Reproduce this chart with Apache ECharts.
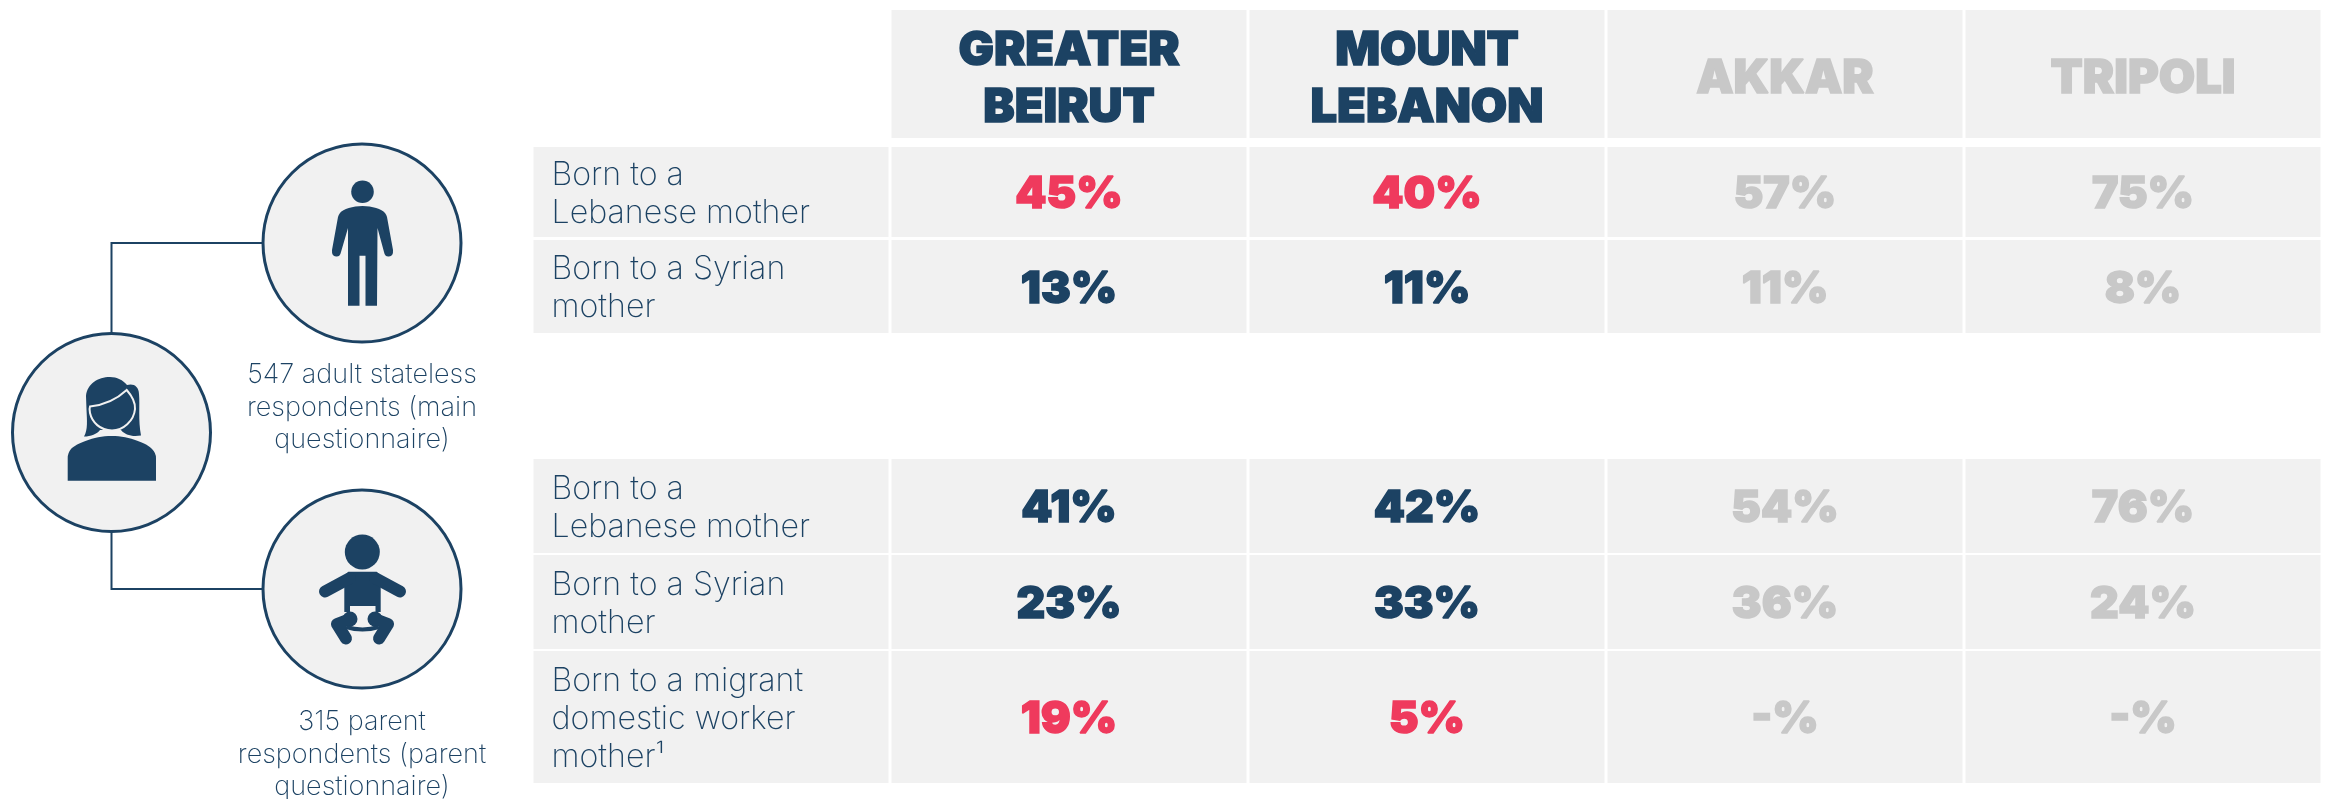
<!DOCTYPE html>
<html>
<head>
<meta charset="utf-8">
<style>
  html, body { margin: 0; padding: 0; background: #fff; }
  #main { width: 2325px; height: 799px; }
</style>
<script src="https://cdn.jsdelivr.net/npm/echarts@6/dist/echarts.min.js"></script>
</head>
<body>
<div id="main"></div>
<script>
// table content
var regions = ['GREATER\nBEIRUT', 'MOUNT\nLEBANON', 'AKKAR', 'TRIPOLI'];
var rowLabels = [
    'Born to a\nLebanese mother',
    'Born to a Syrian\nmother',
    'Born to a\nLebanese mother',
    'Born to a Syrian\nmother',
    'Born to a migrant\ndomestic worker\nmother\u00b9'
];
var adultLebanese = [45, 40, 57, 75];
var adultSyrian = [13, 11, 11, 8];
var parentLebanese = [41, 42, 54, 76];
var parentSyrian = [23, 33, 36, 24];
var parentMigrant = [19, 5, null, null];
var adultNote = '547 adult stateless\nrespondents (main\nquestionnaire)';
var parentNote = '315 parent\nrespondents (parent\nquestionnaire)';

var NAVY = '#1c4263', RED = '#ef3a5d', GREY = '#c8c8c8', CELL = '#f1f1f1';
var FONT = 'Inter';

var rowValues = [adultLebanese, adultSyrian, parentLebanese, parentSyrian, parentMigrant];
var redRows = [0, 4];      // rows where the first two regions are highlighted
var fadedColumns = [2, 3]; // Akkar and Tripoli are greyed out

// y axis runs in page pixels, row -1 is the header
var rowEdges = [[147, 237], [240, 333], [459, 553], [555, 649], [651, 783]];
var headerEdge = [10, 138];

var cells = [];
regions.forEach(function (name, c) {
    cells.push({
        value: [c + 1, -1],
        text: name,
        size: 47, weight: 900, lineHeight: 57, shift: 4, heavy: true,
        color: fadedColumns.indexOf(c) >= 0 ? GREY : NAVY
    });
});
rowLabels.forEach(function (label, r) {
    cells.push({
        value: [0, r],
        text: label,
        size: 32.2, weight: 200, lineHeight: 38, shift: 1,
        color: NAVY, align: 'left'
    });
    rowValues[r].forEach(function (v, c) {
        var color = NAVY;
        if (redRows.indexOf(r) >= 0) color = RED;
        if (fadedColumns.indexOf(c) >= 0) color = GREY;
        cells.push({
            value: [c + 1, r],
            text: (v === null ? '-' : v) + '%',
            size: 44.5, weight: 900, lineHeight: 57, shift: 2, heavy: true,
            color: color
        });
    });
});

function renderCell(params, api) {
    var cell = cells[params.dataIndex];
    var edge = api.value(1) < 0 ? headerEdge : rowEdges[api.value(1)];
    var cx = api.coord([api.value(0), 0])[0];
    var band = api.size([1, 0])[0];
    var top = api.coord([0, edge[0]])[1];
    var bottom = api.coord([0, edge[1]])[1];
    var left = cx - band / 2 + 1.5;
    var w = band - 3;
    return {
        type: 'group',
        children: [{
            type: 'rect',
            shape: { x: left, y: top, width: w, height: bottom - top },
            style: { fill: CELL }
        }, {
            type: 'text',
            style: {
                x: cell.align === 'left' ? left + 18 : left + w / 2,
                y: (top + bottom) / 2 + 1 + cell.shift,
                text: cell.text,
                fill: cell.color,
                stroke: cell.heavy ? cell.color : null,
                lineWidth: cell.heavy ? 1.5 : 0,
                fontFamily: FONT,
                fontSize: cell.size,
                fontWeight: cell.weight,
                lineHeight: cell.lineHeight,
                align: cell.align || 'center',
                verticalAlign: 'middle'
            }
        }]
    };
}

// icons and connectors on the left
var manPath = 'M362.5 206C372 206 382 209 385 213Q386.5 215 387 217L393 250Q393.5 256 389 256.5Q385 257 384 252L377.5 228L377 305.7L365.5 305.7L365.5 255.7L359.5 255.7L359.5 305.7L348 305.7L348 228L341 252Q340 257 336 256.5Q331.5 256 332 250L338 217Q338.5 215 340 213C343 209 353 206 362.5 206Z';
var hairPath = 'M84 436.5C88 430 87 420 86.5 410L86 396C87 384 98 377 110 377C117 377 123 380 127 385C133 383 139 386 139 394C140 405 138 420 141 435.5C132 437 125 435 121 430L100 430C97 434 91 436.5 84 436.5Z';
var facePath = 'M90 406.5C104 405 116 400 126.7 390C132 396 135.5 402 135 409C134 421 123 430.5 112 430.5C100 430.5 92 422 90 413Q89 409 90 406.5Z';
var womanBodyPath = 'M111.7 436C130 436 148 444 152 449Q156 453 156 458L156 480.7L67.7 480.7L67.7 458Q67.7 453 71 449C76 444 93 436 111.7 436Z';
var babyTorso = 'M348.3 571.7L376.7 571.7L380.7 576L380.7 612L344.3 612L344.3 576Z';
var crotchBand = 'M346 627Q362.5 632 379 627';

function circle(cx, cy) {
    return {
        type: 'circle',
        shape: { cx: cx, cy: cy, r: 99 },
        style: { fill: CELL, stroke: NAVY, lineWidth: 3 }
    };
}
function dot(cx, cy, r) {
    return { type: 'circle', shape: { cx: cx, cy: cy, r: r }, style: { fill: NAVY } };
}
function filled(d) {
    return { type: 'path', shape: { pathData: d }, style: { fill: NAVY } };
}
function limb(points, width) {
    return {
        type: 'polyline',
        shape: { points: points },
        style: { fill: 'none', stroke: NAVY, lineWidth: width, lineCap: 'round', lineJoin: 'round' }
    };
}
function note(text, y) {
    return {
        type: 'text',
        style: {
            x: 362, y: y, text: text, fill: NAVY,
            fontFamily: FONT, fontSize: 27, fontWeight: 200, lineHeight: 32.5,
            align: 'center', verticalAlign: 'top'
        }
    };
}

function renderIcons() {
    return {
        type: 'group',
        children: [
            {
                type: 'polyline',
                shape: { points: [[111.5, 333], [111.5, 243], [262, 243]] },
                style: { fill: 'none', stroke: NAVY, lineWidth: 2 }
            },
            {
                type: 'polyline',
                shape: { points: [[111.5, 532], [111.5, 589], [262, 589]] },
                style: { fill: 'none', stroke: NAVY, lineWidth: 2 }
            },
            circle(362, 243),
            circle(111.5, 432.5),
            circle(362, 589),
            // man
            dot(362.5, 191.7, 11.3),
            filled(manPath),
            // woman
            filled(hairPath),
            {
                type: 'path',
                shape: { pathData: facePath },
                style: { fill: NAVY, stroke: CELL, lineWidth: 2 }
            },
            filled(womanBodyPath),
            // baby
            dot(362.3, 552, 17.5),
            filled(babyTorso),
            {
                type: 'rect',
                shape: { x: 350, y: 606, width: 25.5, height: 19 },
                style: { fill: CELL }
            },
            limb([[325, 591.5], [350, 578]], 12),
            limb([[400, 591.5], [375, 578]], 12),
            dot(350, 619, 7.5),
            dot(375, 619, 7.5),
            limb([[350, 619], [337, 624], [346, 638.5]], 12),
            limb([[375, 619], [388, 624], [379, 638.5]], 12),
            {
                type: 'path',
                shape: { pathData: crotchBand },
                style: { fill: 'none', stroke: NAVY, lineWidth: 4 }
            },
            note(adultNote, 359),
            note(parentNote, 706)
        ]
    };
}

var myChart = echarts.init(document.getElementById('main'));
myChart.setOption({
    animation: false,
    backgroundColor: '#fff',
    tooltip: { show: false },
    grid: { left: 532, top: 0, width: 1790, height: 799 },
    xAxis: { type: 'category', data: ['label'].concat(regions), show: false },
    yAxis: { type: 'value', min: 0, max: 799, inverse: true, show: false },
    series: [{
        type: 'custom',
        coordinateSystem: 'cartesian2d',
        silent: true,
        renderItem: renderCell,
        data: cells.map(function (c) { return c.value; })
    }, {
        type: 'custom',
        coordinateSystem: 'none',
        silent: true,
        renderItem: renderIcons,
        data: [0]
    }]
});
</script>
</body>
</html>
